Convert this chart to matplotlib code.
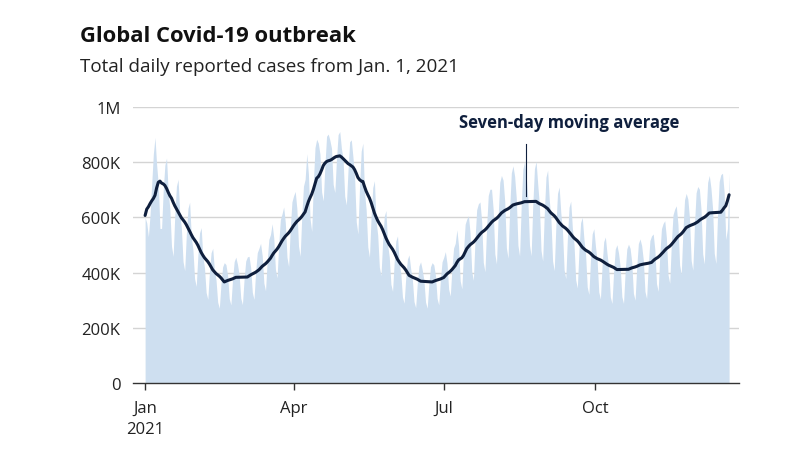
"""Global Covid-19 outbreak: daily reported cases (area) and 7-day moving average (line)."""
import numpy as np, pandas as pd, matplotlib
matplotlib.use('Agg')
import matplotlib.pyplot as plt

plt.rcParams['font.family'] = ['Open Sans', 'DejaVu Sans']

# ── data (thousands of cases per day) ────────────────────────────────────────
# last six days of Dec 2020, only used to seed the moving average
PRIOR_DEC = [420, 470, 530, 650, 770, 809]

# daily reported cases from Fri Jan 1, 2021; one row per Fri..Thu week
DAILY = [
    600, 580, 530, 610, 720, 830, 890,
    790, 720, 560, 560, 700, 790, 815,
    694, 632, 496, 459, 608, 713, 738,
    616, 561, 440, 407, 539, 633, 655,
    530, 482, 378, 350, 464, 544, 563,
    459, 418, 328, 303, 402, 472, 488,
    410, 373, 293, 271, 359, 421, 436,
    429, 391, 306, 283, 375, 440, 456,
    430, 392, 307, 284, 376, 442, 457,
    459, 418, 328, 303, 402, 472, 488,
    506, 461, 362, 334, 443, 520, 538,
    577, 525, 412, 381, 505, 592, 613,
    638, 581, 456, 422, 559, 656, 678,
    694, 632, 496, 459, 608, 713, 738,
    831, 757, 594, 549, 727, 853, 883,
    869, 829, 692, 660, 789, 894, 902,
    880, 850, 720, 690, 810, 900, 911,
    850, 811, 677, 645, 771, 874, 881,
    818, 745, 584, 540, 715, 840, 869,
    690, 628, 493, 456, 604, 708, 733,
    588, 536, 420, 389, 515, 604, 625,
    502, 457, 358, 332, 439, 515, 533,
    437, 398, 312, 289, 382, 449, 464,
    413, 376, 295, 273, 362, 424, 439,
    410, 373, 293, 271, 359, 421, 436,
    428, 390, 306, 283, 374, 439, 455,
    476, 434, 340, 315, 417, 489, 506,
    555, 497, 370, 341, 477, 575, 594,
    606, 543, 404, 372, 521, 628, 649,
    656, 587, 437, 403, 564, 679, 702,
    702, 628, 468, 431, 604, 727, 752,
    735, 658, 490, 452, 632, 761, 787,
    749, 670, 499, 460, 644, 775, 802,
    750, 671, 500, 461, 645, 776, 803,
    720, 645, 480, 442, 619, 746, 771,
    663, 594, 442, 407, 570, 687, 710,
    616, 551, 410, 378, 529, 637, 659,
    561, 502, 374, 344, 482, 581, 600,
    522, 467, 348, 321, 449, 540, 559,
    495, 443, 330, 304, 425, 512, 529,
    469, 419, 312, 288, 403, 485, 501,
    470, 420, 313, 288, 404, 486, 503,
    488, 437, 325, 300, 419, 505, 522,
    498, 446, 332, 306, 428, 516, 533,
    540, 483, 360, 332, 465, 559, 578,
    588, 526, 392, 361, 506, 609, 630,
    642, 574, 428, 394, 552, 664, 687,
    666, 596, 444, 409, 572, 689, 712,
    702, 628, 468, 431, 604, 727, 752,
    706, 631, 470, 433, 607, 730, 755,
    760, 690, 520, 560, 759,
]

Y_TICKS  = [0, 200_000, 400_000, 600_000, 800_000, 1_000_000]
Y_LABELS = ["0", "200K", "400K", "600K", "800K", "1M"]
X_TICKS  = ["2021-01-01", "2021-04-01", "2021-07-01", "2021-10-01"]
X_LABELS = ["Jan\n2021", "Apr", "Jul", "Oct"]

dates = pd.date_range("2021-01-01", periods=len(DAILY), freq="D")
cases = np.array(DAILY) * 1000
full  = pd.Series(np.array(PRIOR_DEC + DAILY) * 1000.0)
avg7  = full.rolling(7).mean().values[len(PRIOR_DEC):]

FILL = "#cedff0"
NAVY = "#0f1f3d"
GRID = "#d4d4d4"
TXT  = "#222222"

fig = plt.figure(figsize=(8, 4.52), dpi=100)
ax = fig.add_axes([133 / 800, 68 / 452, 606 / 800, 276 / 452])

ax.fill_between(dates, 0, cases, color=FILL, lw=0, zorder=1)
ax.plot(dates, avg7, color=NAVY, lw=2.2, zorder=3, solid_capstyle="round")

ax.set_ylim(0, 1_000_000)
ax.set_xlim(pd.Timestamp("2020-12-24 16:00"), pd.Timestamp("2021-12-27"))
ax.set_yticks(Y_TICKS)
ax.set_yticklabels(Y_LABELS)
ax.set_xticks(pd.to_datetime(X_TICKS))
ax.set_xticklabels(X_LABELS, linespacing=1.45)

for v in Y_TICKS[1:]:
    ax.axhline(v, color=GRID, lw=1.0, zorder=0)
for s in ["top", "right", "left"]:
    ax.spines[s].set_visible(False)
ax.spines["bottom"].set_color("#333333")
ax.spines["bottom"].set_linewidth(1.0)
ax.spines["bottom"].set_zorder(4)

ax.tick_params(axis="y", length=0, pad=9, labelsize=12, labelcolor=TXT)
ax.tick_params(axis="x", length=5, width=1, color="#333333", pad=7,
               labelsize=12, labelcolor=TXT)

# annotation for the moving average line
ann_day = pd.Timestamp("2021-08-20")
ax.plot([ann_day, ann_day], [678_000, 866_000], color=NAVY, lw=0.8, zorder=2)
ax.text(pd.Timestamp("2021-09-15"), 944_000, "Seven-day moving average",
        ha="center", va="center", fontsize=12, fontweight="bold", color=NAVY)

fig.text(80 / 800, 1 - 37 / 452, "Global Covid-19 outbreak", ha="left", va="center",
         fontsize=15.8, fontweight="bold", color="#111111")
fig.text(80 / 800, 1 - 67 / 452, "Total daily reported cases from Jan. 1, 2021",
         ha="left", va="center", fontsize=13.6, color=TXT)

fig.savefig("out.png", dpi=100)
